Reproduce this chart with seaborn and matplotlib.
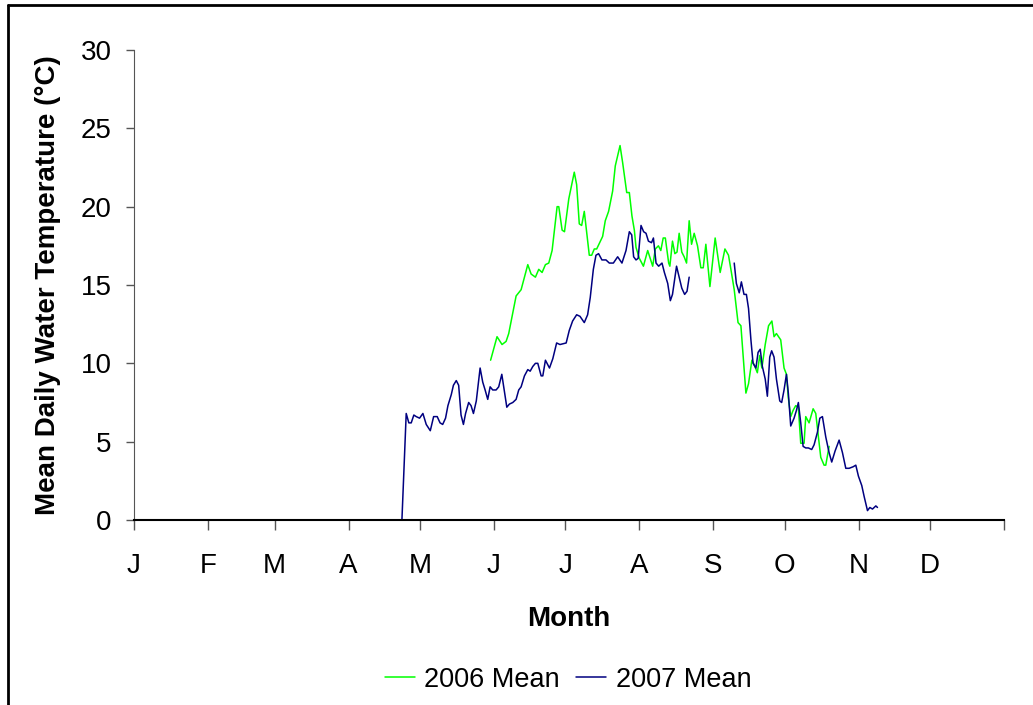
import numpy as np
import pandas as pd
import matplotlib
matplotlib.use('Agg')
import matplotlib.pyplot as plt
import seaborn as sns
from matplotlib.lines import Line2D

# day of year / mean daily water temperature
days_2006 = [149.6, 152.3, 154.4, 156.1, 157.2, 160.3, 162.4, 165.2, 166.6, 168.4,
             169.8, 171.2, 172.6, 174.0, 175.4, 177.5, 178.2, 179.6, 180.6, 182.4,
             184.7, 185.7, 186.8, 187.8, 188.9, 191.0, 192.0, 193.1, 194.1, 196.6,
             197.7, 199.1, 200.8, 201.9, 203.9, 205.0, 206.7, 207.8, 208.9, 209.9,
             210.6, 212.0, 213.7, 215.5, 217.6, 218.7, 220.0, 221.0, 222.0, 222.9,
             224.3, 224.8, 225.9, 226.9, 227.8, 228.7, 229.8, 230.8, 231.8, 232.9,
             233.9, 235.0, 236.4, 237.8, 238.8, 239.9, 241.6, 243.8, 245.9, 247.9,
             249.4, 250.4, 251.8, 253.4, 254.6, 256.7, 257.8, 259.2, 260.2, 261.5,
             262.5, 263.4, 264.8, 266.2, 267.6, 268.5, 269.5, 271.3, 272.7, 273.7,
             274.5, 275.5, 276.5, 277.6, 278.7, 279.7, 281.1, 281.8, 283.2, 284.9,
             286.0, 288.1, 289.5, 290.2, 291.6]
temp_2006 = [10.2, 11.7, 11.2, 11.4, 11.9, 14.3, 14.7, 16.3, 15.7, 15.5,
             16.0, 15.8, 16.3, 16.4, 17.2, 20.0, 20.0, 18.5, 18.4, 20.5,
             22.2, 21.4, 18.9, 18.8, 19.7, 16.9, 16.9, 17.3, 17.3, 18.1,
             19.1, 19.7, 21.0, 22.6, 23.9, 22.8, 20.9, 20.9, 19.4, 18.5,
             17.4, 16.7, 16.2, 17.2, 16.2, 17.3, 17.5, 17.2, 18.0, 18.0,
             16.4, 16.2, 17.8, 17.0, 17.1, 18.3, 17.1, 16.8, 16.4, 19.1,
             17.6, 18.3, 17.5, 16.1, 16.1, 17.6, 14.9, 18.0, 15.8, 17.3,
             16.9, 16.0, 14.7, 12.6, 12.4, 8.1, 8.7, 10.2, 9.9, 9.4,
             10.5, 9.7, 11.2, 12.4, 12.7, 11.7, 11.9, 11.5, 9.7, 9.3,
             7.8, 6.6, 7.0, 7.3, 7.2, 4.9, 4.9, 6.6, 6.2, 7.1,
             6.8, 4.0, 3.5, 3.5, 4.7]
# lone reading at the end of 2006
days_2006_end = [311.2, 312.0]
temp_2006_end = [0.0, 0.0]

days_2007_a = [9.0, 112.4, 114.2, 115.3, 116.3, 117.4, 118.4, 119.8, 121.2, 122.6,
               124.3, 125.7, 127.2, 128.4, 129.5, 130.7, 131.7, 133.1, 134.0, 135.2,
               136.2, 137.2, 138.2, 139.1, 140.4, 141.4, 142.4, 143.6, 145.2, 146.3,
               147.3, 148.4, 149.4, 150.5, 151.9, 153.0, 154.3, 155.4, 156.4, 157.5,
               158.9, 160.3, 161.4, 162.4, 163.8, 165.2, 166.2, 167.3, 168.4, 169.4,
               170.8, 171.5, 172.6, 174.3, 175.7, 177.3, 178.7, 181.3, 182.6, 184.0,
               185.7, 187.1, 188.9, 190.3, 191.4, 192.7, 193.8, 194.9, 196.3, 198.0,
               199.4, 201.1, 202.9, 204.7, 206.4, 207.8, 208.8, 209.6, 210.6, 211.5,
               212.7, 213.8, 214.8, 215.8, 217.1, 217.9, 219.0, 220.1, 221.5, 222.5,
               223.9, 225.0, 225.9, 227.6, 228.7, 229.8, 231.0, 232.0, 232.9]
temp_2007_a = [0.0, 0.0, 6.8, 6.2, 6.2, 6.7, 6.6, 6.5, 6.8, 6.1,
               5.7, 6.6, 6.6, 6.2, 6.1, 6.5, 7.3, 8.0, 8.6, 8.9,
               8.6, 6.7, 6.1, 6.8, 7.5, 7.3, 6.8, 7.6, 9.7, 8.8,
               8.3, 7.7, 8.5, 8.3, 8.3, 8.5, 9.3, 8.2, 7.2, 7.4,
               7.5, 7.7, 8.3, 8.5, 9.2, 9.6, 9.5, 9.8, 10.0, 10.0,
               9.2, 9.2, 10.2, 9.7, 10.3, 11.3, 11.2, 11.3, 12.1, 12.7,
               13.1, 13.0, 12.6, 13.1, 14.2, 16.0, 16.9, 17.0, 16.6, 16.6,
               16.4, 16.4, 16.8, 16.4, 17.2, 18.4, 18.2, 16.8, 16.6, 16.7,
               18.8, 18.4, 18.3, 17.8, 17.7, 18.0, 16.4, 16.2, 16.4, 15.8,
               15.1, 14.0, 14.4, 16.2, 15.5, 14.8, 14.4, 14.6, 15.5]
days_2007_b = [251.8, 252.7, 253.9, 254.8, 255.9, 256.9, 257.8, 258.8, 259.7, 260.9,
               261.8, 262.7, 263.6, 264.8, 265.7, 266.7, 267.5, 268.5, 269.5, 270.9,
               271.7, 272.7, 273.7, 274.5, 275.5, 276.9, 277.9, 278.7, 279.7, 280.7,
               281.8, 282.9, 284.3, 285.3, 286.7, 287.7, 288.8, 290.2, 291.6, 292.7,
               294.1, 295.8, 297.2, 298.6, 300.0, 301.7, 302.8, 303.9, 305.3, 306.3,
               307.7, 308.7, 309.8, 311.2, 311.9]
temp_2007_b = [16.4, 15.1, 14.5, 15.2, 14.4, 14.4, 13.5, 11.5, 10.0, 9.7,
               10.7, 10.9, 9.8, 9.0, 7.9, 10.4, 10.8, 10.4, 9.0, 7.6,
               7.5, 8.3, 9.3, 8.1, 6.0, 6.5, 7.0, 7.5, 6.2, 4.7,
               4.6, 4.6, 4.5, 4.8, 5.6, 6.5, 6.6, 5.3, 4.3, 3.7,
               4.4, 5.1, 4.3, 3.3, 3.3, 3.4, 3.5, 2.8, 2.2, 1.5,
               0.6, 0.8, 0.7, 0.9, 0.8]

month_starts = [0, 31, 59, 90, 120, 151, 181, 212, 243, 273, 304, 334, 365]
month_labels = ['J', 'F', 'M', 'A', 'M', 'J', 'J', 'A', 'S', 'O', 'N', 'D', '']

frames = []
for seg, (d, t, name) in enumerate([(days_2006, temp_2006, '2006 Mean'),
                                     (days_2006_end, temp_2006_end, '2006 Mean'),
                                     (days_2007_a, temp_2007_a, '2007 Mean'),
                                     (days_2007_b, temp_2007_b, '2007 Mean')]):
    frames.append(pd.DataFrame({'day': d, 'temp': t, 'series': name, 'seg': seg}))
df = pd.concat(frames, ignore_index=True)

sns.set_style('white')
plt.rcParams['font.family'] = ['Liberation Sans', 'DejaVu Sans']
plt.rcParams['text.color'] = 'black'
plt.rcParams['axes.labelcolor'] = 'black'
plt.rcParams['xtick.labelcolor'] = 'black'
plt.rcParams['ytick.labelcolor'] = 'black'

fig = plt.figure(figsize=(10.33, 7.05), dpi=100)
ax = fig.add_axes([0.1297, 0.2624, 0.8423, 0.6667])

sns.lineplot(data=df, x='day', y='temp', hue='series', units='seg', estimator=None,
             palette={'2006 Mean': '#00FF00', '2007 Mean': '#000080'},
             linewidth=1.1, sort=False, ax=ax, legend=False)

ax.set_xlim(0, 365)
ax.set_ylim(0, 30)
ax.set_yticks(range(0, 31, 5))
ax.set_xticks(month_starts)
ax.set_xticklabels(month_labels)
ax.tick_params(axis='x', direction='out', length=7, width=1, color='#555555',
               labelsize=20, labelcolor='black', pad=17, bottom=True)
ax.tick_params(axis='y', direction='out', length=6, width=1, color='#555555',
               labelsize=20, labelcolor='black', pad=10, left=True)
for s in ['top', 'right']:
    ax.spines[s].set_visible(False)
ax.spines['bottom'].set_linewidth(1.5)
ax.spines['bottom'].set_color('black')
ax.spines['left'].set_linewidth(0.8)
ax.spines['left'].set_color('#555555')

ax.set_xlabel('Month', fontsize=20, fontweight='bold', color='black')
ax.set_ylabel('Mean Daily Water Temperature (°C)', fontsize=20, fontweight='bold',
              color='black')
ax.xaxis.set_label_coords(0.5, -0.182)
ax.yaxis.set_label_coords(-0.084, 0.5)

handles = [Line2D([], [], color='#00FF00', lw=1.1), Line2D([], [], color='#000080', lw=1.1)]
fig.legend(handles, ['2006 Mean', '2007 Mean'], loc='center', ncol=2, frameon=False,
           bbox_to_anchor=(0.55, 0.036), fontsize=19.5, handlelength=1.1,
           handletextpad=0.35, columnspacing=0.6)

# partial frame around the figure
fig.add_artist(Line2D([8 / 1033, 1], [1 - 5 / 705, 1 - 5 / 705], color='black', lw=2,
                      transform=fig.transFigure))
fig.add_artist(Line2D([8 / 1033, 8 / 1033], [0, 1 - 5 / 705], color='black', lw=2,
                      transform=fig.transFigure))

fig.savefig('out.png', dpi=100)
